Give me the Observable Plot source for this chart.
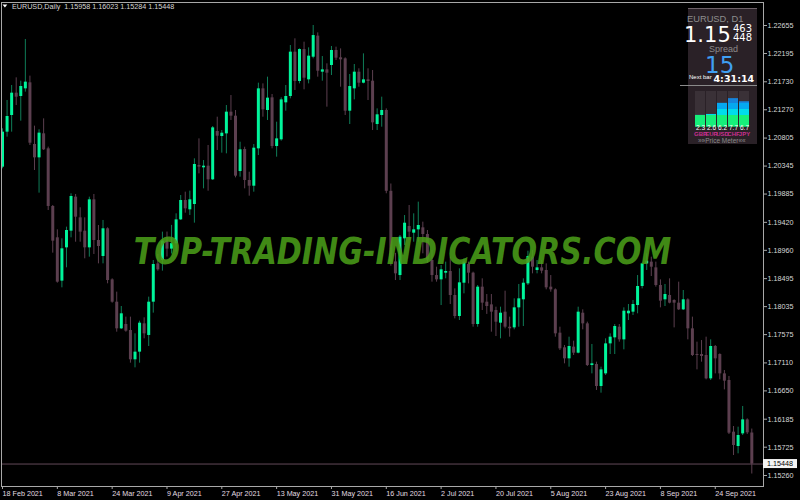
<!DOCTYPE html>
<html><head><meta charset="utf-8">
<script src="https://cdn.jsdelivr.net/npm/d3@7"></script>
<script src="https://cdn.jsdelivr.net/npm/@observablehq/plot@0.6"></script>
<style>
html,body{margin:0;padding:0;background:#000;width:800px;height:500px;overflow:hidden}
#wrap{position:relative;width:800px;height:500px}
#wrap svg{display:block}
</style>
</head><body><div id="wrap"></div>
<script>
const symbol = "EURUSD", period = "Daily", panelPeriod = "D1";
const open = [1.20327,1.20902,1.21176,1.21543,1.21488,1.21614,1.21713,1.20700,1.20480,1.20875,
1.20628,1.19681,1.19166,1.18454,1.19001,1.19275,1.19834,1.19494,1.19275,1.19001,
1.19790,1.19122,1.18859,1.19314,1.18475,1.18108,1.17670,1.17741,1.17643,1.17161,
1.17287,1.17752,1.17561,1.18108,1.18738,1.18793,1.19111,1.18980,1.19067,1.19461,
1.19779,1.19626,1.19713,1.20354,1.20316,1.20343,1.20119,1.20913,1.20831,1.20874,
1.21231,1.21165,1.20255,1.20617,1.20108,1.20014,1.20628,1.21614,1.21258,1.21466,
1.20666,1.20776,1.21384,1.21488,1.22217,1.21735,1.22260,1.21762,1.22134,1.22480,
1.21888,1.21926,1.21998,1.22244,1.22124,1.22107,1.21247,1.21614,1.21888,1.21707,
1.21762,1.21740,1.21028,1.21176,1.21258,1.19930,1.18770,1.18546,1.19149,1.19352,
1.19242,1.19297,1.19330,1.19220,1.18793,1.18546,1.18475,1.18585,1.18612,1.18218,
1.17873,1.18420,1.18727,1.18585,1.17741,1.18355,1.18108,1.18064,1.17971,1.17763,
1.17944,1.17697,1.17686,1.18015,1.18147,1.18409,1.18848,1.18629,1.18672,1.18629,
1.18355,1.18311,1.17599,1.17358,1.17177,1.17369,1.17270,1.17927,1.17752,1.17067,
1.17084,1.16722,1.16930,1.17423,1.17522,1.17697,1.17489,1.17917,1.17944,1.18053,
1.18366,1.18738,1.18766,1.18672,1.18382,1.18147,1.18218,1.18136,1.18092,1.17982,
1.18147,1.17670,1.17248,1.17248,1.17232,1.16848,1.17380,1.17248,1.16930,1.16821,
1.15972,1.15736,1.15944,1.16174,1.15958];
const high = [1.20957,1.21423,1.21669,1.21795,1.21740,1.22425,1.21823,1.21001,1.20941,1.21121,
1.20656,1.19697,1.19297,1.19149,1.19341,1.19889,1.19878,1.19659,1.19494,1.19834,
1.19878,1.19368,1.19451,1.19330,1.18492,1.18273,1.18037,1.17862,1.17862,1.17588,
1.17796,1.17851,1.18191,1.18793,1.18892,1.19259,1.19260,1.19370,1.19560,1.19861,
1.19916,1.19933,1.20464,1.20792,1.20436,1.20683,1.20995,1.21148,1.20929,1.21340,
1.21504,1.21258,1.20737,1.20655,1.20244,1.20699,1.21707,1.21696,1.21806,1.21521,
1.21066,1.21466,1.21669,1.22326,1.22436,1.22271,1.22381,1.22288,1.22655,1.22534,
1.22145,1.22025,1.22310,1.22299,1.22271,1.22124,1.21850,1.22014,1.21943,1.22189,
1.21943,1.21915,1.21285,1.21477,1.21285,1.20050,1.18910,1.19204,1.19532,1.19697,
1.19560,1.19752,1.19423,1.19286,1.18957,1.18683,1.18711,1.18766,1.18848,1.18327,
1.18656,1.18820,1.18766,1.18601,1.18382,1.18492,1.18234,1.18234,1.18026,1.18026,
1.18289,1.17862,1.18163,1.18399,1.18492,1.18946,1.18957,1.18793,1.18793,1.18738,
1.18546,1.18327,1.17697,1.17396,1.17533,1.17467,1.18026,1.17982,1.17780,1.17413,
1.17122,1.17040,1.17506,1.17588,1.17741,1.17741,1.18015,1.18070,1.18136,1.18546,
1.18749,1.18903,1.18848,1.18766,1.18475,1.18399,1.18492,1.18147,1.18437,1.18300,
1.18163,1.17862,1.17451,1.17478,1.17533,1.17489,1.17396,1.17259,1.16985,1.16887,
1.16065,1.16054,1.16394,1.16191,1.16023];
const low = [1.20300,1.20820,1.20902,1.21340,1.21083,1.21560,1.20683,1.20272,1.19900,1.20601,
1.19615,1.18914,1.18421,1.18344,1.18673,1.19166,1.19094,1.19094,1.18821,1.18848,
1.18892,1.18738,1.18738,1.18410,1.18092,1.17615,1.17659,1.17615,1.17106,1.17029,
1.17106,1.17506,1.17380,1.17928,1.18618,1.18618,1.18850,1.18900,1.18930,1.19451,
1.19571,1.19533,1.19407,1.20217,1.19971,1.19932,1.20108,1.20601,1.20557,1.20546,
1.21094,1.20151,1.20162,1.19971,1.19850,1.19916,1.20518,1.21148,1.21094,1.20628,
1.20491,1.20754,1.21247,1.21450,1.21587,1.21696,1.21598,1.21696,1.22107,1.21806,
1.21740,1.21313,1.21833,1.22080,1.21641,1.21176,1.21028,1.21433,1.21641,1.21696,
1.21422,1.20929,1.20929,1.20984,1.19890,1.18700,1.18464,1.18464,1.19039,1.19122,
1.19094,1.19094,1.18903,1.18750,1.18437,1.18437,1.18053,1.18492,1.18070,1.17834,
1.17807,1.18245,1.18409,1.17697,1.17697,1.17971,1.17907,1.17615,1.17544,1.17506,
1.17670,1.17533,1.17654,1.17697,1.17708,1.18382,1.18574,1.18574,1.18574,1.18311,
1.18272,1.17533,1.17314,1.17095,1.17040,1.17232,1.17259,1.17654,1.17051,1.16930,
1.16657,1.16613,1.16903,1.17248,1.17248,1.17451,1.17325,1.17807,1.17889,1.17917,
1.18327,1.18629,1.18530,1.18355,1.18015,1.18037,1.18081,1.17686,1.17971,1.17971,
1.17489,1.17215,1.16996,1.17122,1.16832,1.16821,1.16930,1.16832,1.16667,1.15933,
1.15588,1.15616,1.15917,1.15933,1.15284];
const close = [1.20902,1.21160,1.21543,1.21477,1.21653,1.21724,1.20721,1.20480,1.20886,1.20612,
1.19681,1.19111,1.18437,1.18985,1.19286,1.19845,1.19505,1.19259,1.19001,1.19790,
1.19122,1.19023,1.19314,1.18464,1.18108,1.17670,1.17917,1.17632,1.17161,1.17287,
1.17763,1.17588,1.18108,1.18727,1.18640,1.19111,1.18980,1.19070,1.19461,1.19779,
1.19642,1.19790,1.20371,1.20327,1.20343,1.20119,1.20973,1.20836,1.20885,1.21231,
1.21165,1.20179,1.20612,1.20108,1.20014,1.20639,1.21614,1.21269,1.21461,1.20666,
1.20792,1.21433,1.21488,1.22217,1.21735,1.22260,1.21789,1.22151,1.22490,1.21904,
1.21926,1.21871,1.22244,1.22118,1.22091,1.21247,1.21652,1.21888,1.21707,1.21762,
1.21735,1.21055,1.21187,1.21258,1.19930,1.18770,1.18574,1.19176,1.19406,1.19259,
1.19297,1.19368,1.19220,1.18800,1.18546,1.18475,1.18640,1.18612,1.18218,1.17873,
1.18426,1.18766,1.18585,1.17741,1.18355,1.18092,1.18037,1.17944,1.17779,1.17927,
1.17697,1.17670,1.18015,1.18163,1.18420,1.18859,1.18683,1.18672,1.18618,1.18344,
1.18311,1.17588,1.17341,1.17177,1.17380,1.17270,1.17944,1.17752,1.17067,1.17095,
1.16722,1.16996,1.17423,1.17533,1.17708,1.17489,1.17960,1.17960,1.18070,1.18366,
1.18738,1.18782,1.18683,1.18382,1.18125,1.18234,1.18092,1.18092,1.17982,1.18147,
1.17670,1.17232,1.17232,1.17215,1.16848,1.17380,1.17177,1.16930,1.16810,1.15955,
1.15753,1.15917,1.16174,1.15961,1.15448];
const dateIdx = [0,12,24,36,48,60,72,84,96,108,120,132,144,156];
const dateLabels = ["18 Feb 2021","8 Mar 2021","24 Mar 2021","9 Apr 2021","27 Apr 2021","13 May 2021","31 May 2021","16 Jun 2021","2 Jul 2021","20 Jul 2021","5 Aug 2021","23 Aug 2021","8 Sep 2021","24 Sep 2021"];
const priceTicks = [1.22655,1.22195,1.21730,1.21270,1.20805,1.20345,1.19885,1.19420,1.18960,1.18495,1.18035,1.17575,1.17110,1.16650,1.16185,1.15725,1.15260];
const askPrice = 1.15463, bidPrice = 1.15448, spreadPts = 15, nextBar = "4:31:14";
const meterLabels = ["GBP","EUR","USD","CHF","JPY"];
const meterValues = [2.3,2.6,6.2,7.7,6.7];
const watermark = "TOP-TRADING-INDICATORS.COM";

const LS = "'Liberation Sans', Arial, sans-serif";
const DJ = "'DejaVu Sans', sans-serif";
const bullBody = "#00f59b", bullWick = "#0f7d58", bearBody = "#5c3f4f", bearWick = "#5c3f4f";

const bars = open.map((o, i) => ({i, o, h: high[i], l: low[i], c: close[i], up: close[i] >= o}));
const ups = bars.filter(d => d.up), downs = bars.filter(d => !d.up);
const last = bars[bars.length - 1];
const f5 = v => v.toFixed(5);

const chart = Plot.plot({
  width: 800, height: 500,
  marginLeft: 1, marginRight: 37, marginTop: 2, marginBottom: 14,
  style: {background: "#000", color: "#dcdcdc", fontFamily: LS, fontSize: "7.2px"},
  x: {domain: [-0.22, 166.56], axis: null},
  y: {domain: [1.15079, 1.23033], axis: null},
  marks: [
    Plot.axisY({anchor: "right", ticks: priceTicks, tickFormat: f5, tickSize: 3, tickPadding: 1, label: null, stroke: "#a8a8a8", fill: "#d8d8d8"}),
    Plot.axisX({anchor: "bottom", ticks: dateIdx, tickFormat: d => dateLabels[dateIdx.indexOf(d)], textAnchor: "start", tickSize: 3, tickPadding: 1, label: null, stroke: "#a8a8a8", fill: "#e2dde0"}),
    Plot.ruleY([last.c], {stroke: "#634a59"}),
    Plot.ruleX(downs, {x: "i", y1: "l", y2: "h", stroke: bearWick, strokeWidth: 1}),
    Plot.ruleX(ups, {x: "i", y1: "l", y2: "h", stroke: bullWick, strokeWidth: 1}),
    Plot.ruleX(downs, {x: "i", y1: "o", y2: "c", stroke: bearBody, strokeWidth: 3}),
    Plot.ruleX(ups, {x: "i", y1: "o", y2: "c", stroke: bullBody, strokeWidth: 3}),
    Plot.text([watermark], {text: d => d, frameAnchor: "middle", dx: 20, dy: 7, fontSize: 38, fontWeight: "bold", fontStyle: "italic", fontFamily: DJ, fill: "#4a9d19", fillOpacity: 0.88}),
    Plot.frame({stroke: "#a8a8a8"})
  ]
});
const wrap = document.getElementById("wrap");
wrap.appendChild(chart);
// squeeze the watermark horizontally to the reference width (538px), keeping its centre
const wt = d3.select(chart).selectAll("text").filter(function(){ return this.textContent === watermark; }).node();
if (wt) {
  const len = wt.getComputedTextLength();
  const bb = wt.getBBox();
  const cx = bb.x + bb.width / 2;
  const sx = 538 / len;
  const t0 = wt.getAttribute("transform") || "";
  wt.setAttribute("transform", `${t0} translate(${cx},0) scale(${sx},1) translate(${-cx},0)`);
}

// overlay: header, price tag, info panel
const ov = d3.create("svg").attr("width", 800).attr("height", 500)
  .style("position", "absolute").style("left", "0px").style("top", "0px");
ov.append("path").attr("d", "M2.5,4.6L7.3,4.6L4.9,7.6Z").attr("fill", "#ffffff");
ov.append("text").attr("x", 12).attr("y", 9.4).attr("fill", "#d6d6d6").attr("font-family", LS).attr("font-size", 7.2)
  .style("white-space", "pre").text(`${symbol},${period}  ${f5(last.o)} ${f5(last.h)} ${f5(last.l)} ${f5(last.c)}`);
const ty = chart.scale("y").apply(last.c);
ov.append("rect").attr("x", 763).attr("y", ty - 4.5).attr("width", 34).attr("height", 9).attr("fill", "#f4f4f4");
ov.append("text").attr("x", 767).attr("y", ty + 2.5).attr("fill", "#000").attr("font-family", LS).attr("font-size", 7.2).text(f5(last.c));

// panel
ov.append("rect").attr("x", 688).attr("y", 8).attr("width", 69).attr("height", 136).attr("fill", "#2a2127");
ov.append("line").attr("x1", 688).attr("x2", 757).attr("y1", 8.5).attr("y2", 8.5).attr("stroke", "#6d6168");
ov.append("text").attr("x", 687).attr("y", 22.3).attr("fill", "#8e8e8e").attr("font-family", LS).attr("font-size", 9.3).text(`${symbol}, ${panelPeriod}`);
const askStr = askPrice.toFixed(5), bidStr = bidPrice.toFixed(5);
ov.append("text").attr("x", 684).attr("y", 42.3).attr("fill", "#ffffff").attr("font-family", DJ).attr("font-size", 21).text(askStr.slice(0, 4));
ov.append("text").attr("x", 733).attr("y", 32.3).attr("fill", "#ffffff").attr("font-family", DJ).attr("font-size", 10).text(askStr.slice(4));
ov.append("text").attr("x", 733).attr("y", 41).attr("fill", "#ffffff").attr("font-family", DJ).attr("font-size", 10).text(bidStr.slice(4));
ov.append("text").attr("x", 709).attr("y", 51.5).attr("fill", "#8a8a8a").attr("font-family", LS).attr("font-size", 9).text("Spread");
ov.append("text").attr("x", 705).attr("y", 73.3).attr("fill", "#3f9ff2").attr("font-family", DJ).attr("font-size", 23).text(String(spreadPts));
ov.append("text").attr("x", 689).attr("y", 79).attr("fill", "#ffffff").attr("font-family", LS).attr("font-size", 6).text("Next bar");
ov.append("text").attr("x", 713.5).attr("y", 82.3).attr("fill", "#ffffff").attr("font-family", DJ).attr("font-weight", "bold").attr("font-size", 9.5).text(nextBar);
ov.append("line").attr("x1", 680).attr("x2", 757).attr("y1", 85.5).attr("y2", 85.5).attr("stroke", "#8a8a8a");
ov.append("text").attr("x", 698).attr("y", 142.7).attr("fill", "#8a8a8a").attr("font-family", LS).attr("font-size", 6.5).text("\u00bb\u00bbPrice Meter\u00ab\u00ab");
wrap.appendChild(ov.node());

// price meter
const meter = meterLabels.map((k, i) => ({k, v: meterValues[i]}));
const grad = () => {
  const defs = d3.create("svg:defs");
  const g = defs.append("linearGradient").attr("id", "mg").attr("gradientUnits", "userSpaceOnUse")
    .attr("x1", 0).attr("x2", 0).attr("y1", 37.7).attr("y2", 2);
  [[0, "#16f07a"], [0.33, "#16f07a"], [0.33, "#00dcec"], [0.5, "#00dcec"], [0.5, "#05a8f0"], [0.66, "#05a8f0"], [0.66, "#1684dc"], [1, "#1684dc"]]
    .forEach(([o, c]) => g.append("stop").attr("offset", o).attr("stop-color", c));
  return defs.node();
};
const mp = Plot.plot({
  width: 66, height: 50, marginLeft: 4, marginRight: 5, marginTop: 2, marginBottom: 12.3,
  style: {background: "transparent", fontFamily: LS, fontSize: "6.5px"},
  x: {domain: meterLabels, padding: 0.08},
  y: {domain: [-1.5, 10], axis: null},
  marks: [
    grad,
    Plot.barY(meter, {x: "k", y1: -1.5, y2: 10, fill: "#3a3137"}),
    Plot.barY(meter, {x: "k", y1: -1.5, y2: "v", fill: "url(#mg)"}),
    Plot.text(meter, {x: "k", y: -1.5, text: d => d.v.toFixed(1), dy: 1, fill: "#ffffff", fontSize: 6.5}),
    Plot.axisX({tickSize: 0, tickPadding: 4.5, label: null, fill: "#c9308f", fontWeight: "bold", fontSize: 6})
  ]
});
mp.style.position = "absolute"; mp.style.left = "690px"; mp.style.top = "89px";
wrap.appendChild(mp);
</script>
</body></html>
